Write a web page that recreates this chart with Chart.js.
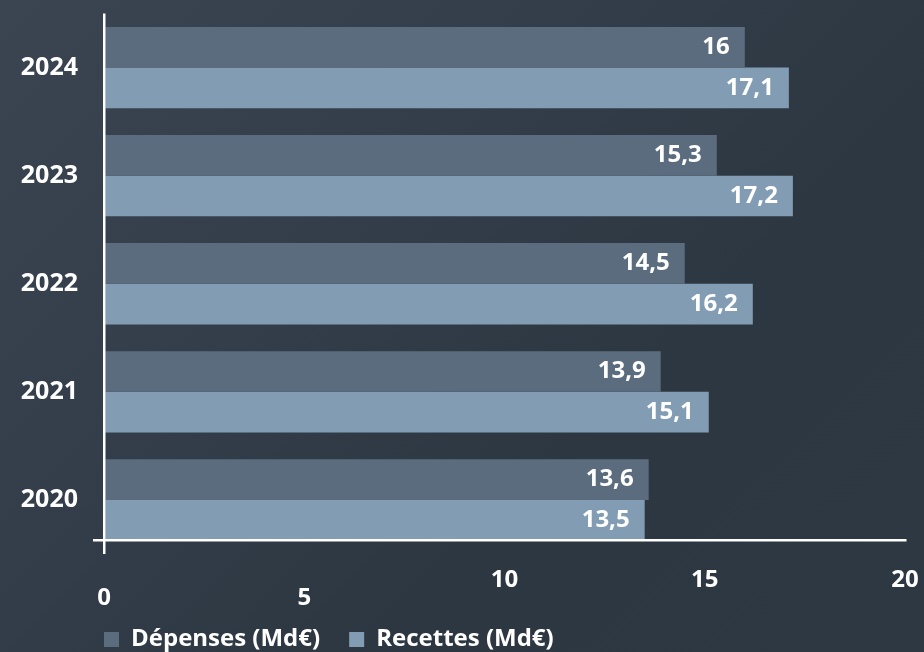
<!DOCTYPE html>
<html lang="fr">
<head>
<meta charset="utf-8">
<title>Dépenses et recettes</title>
<script src="https://cdn.jsdelivr.net/npm/chart.js@4.4.1/dist/chart.umd.min.js"></script>
<style>
  html, body { margin: 0; padding: 0; }
  body {
    width: 924px; height: 652px; overflow: hidden;
    background: linear-gradient(135deg, #3a4551 0%, #333e4a 35%, #2d3742 65%, #2e3843 100%);
  }
  #wrap { position: relative; width: 924px; height: 652px; }
</style>
</head>
<body>
<div id="wrap"><canvas id="budgetChart"></canvas></div>
<script>
var years = ['2024', '2023', '2022', '2021', '2020'];
var depenses = [16, 15.3, 14.5, 13.9, 13.6];
var recettes = [17.1, 17.2, 16.2, 15.1, 13.5];
var xTicks = [0, 5, 10, 15, 20];
var seriesNames = ['Dépenses (Md€)', 'Recettes (Md€)'];

var catPct = 0.752;
var family = '"Open Sans", "Noto Sans", sans-serif';
var font = { family: family, size: 24, weight: '700' };

// valeurs écrites au bout de chaque barre
var valueLabels = {
    id: 'valueLabels',
    afterLayout: function (chart) {
        // l'axe des années est étroit : on ne coupe pas ses libellés
        chart.scales.y.left = 0;
    },
    afterDatasetsDraw: function (chart) {
        var ctx = chart.ctx;
        ctx.save();
        ctx.font = '700 24px ' + family;
        ctx.fillStyle = '#ffffff';
        ctx.textAlign = 'right';
        ctx.textBaseline = 'middle';
        chart.data.datasets.forEach(function (ds, i) {
            chart.getDatasetMeta(i).data.forEach(function (bar, j) {
                ctx.fillText(String(ds.data[j]).replace('.', ','), bar.x - 15, bar.y);
            });
        });
        ctx.restore();
    }
};

Chart.defaults.color = '#ffffff';

var ctx = document.getElementById('budgetChart').getContext('2d');
new Chart(ctx, {
    type: 'bar',
    data: {
        labels: years,
        datasets: [
            { label: seriesNames[0], data: depenses, backgroundColor: '#5c6c7f', borderWidth: 0, barPercentage: 1, categoryPercentage: catPct },
            { label: seriesNames[1], data: recettes, backgroundColor: '#829db3', borderWidth: 0, barPercentage: 1, categoryPercentage: catPct }
        ]
    },
    options: {
        indexAxis: 'y',
        responsive: true,
        maintainAspectRatio: false,
        animation: false,
        layout: { padding: { left: 75, right: 19, top: 13.5, bottom: -9.5 } },
        scales: {
            x: {
                type: 'linear',
                min: -0.25,
                max: 20,
                position: { y: (years.length - 1) + catPct / 2 },
                afterBuildTicks: function (s) {
                    s.ticks = xTicks.map(function (v) { return { value: v }; });
                },
                afterFit: function (s) { s.paddingLeft = 0; s.paddingRight = 0; },
                grid: {
                    drawTicks: false,
                    z: 1,
                    lineWidth: 2.5,
                    color: function (c) { return c.tick && c.tick.value === 0 ? '#ffffff' : 'rgba(0,0,0,0)'; }
                },
                border: { display: true, color: '#ffffff', width: 2.5, z: 1 },
                ticks: {
                    color: '#ffffff',
                    font: { family: family, size: 24, weight: '700', lineHeight: 0.75 },
                    padding: 30.5,
                    maxRotation: 0,
                    autoSkip: false,
                    callback: function (v) { return v < 10 ? ['', String(v)] : String(v); }
                }
            },
            y: {
                position: 'left',
                afterFit: function (s) { s.width = 19; s.paddingTop = 0; s.paddingBottom = 0; },
                grid: { display: false, drawTicks: false },
                border: { display: false },
                ticks: { color: '#ffffff', font: { family: family, size: 25, weight: '700' }, padding: 16 }
            }
        },
        plugins: {
            legend: {
                position: 'bottom',
                align: 'start',
                title: { display: true, text: '', font: { size: 12, lineHeight: 1 }, padding: { top: 32.5, bottom: 0 } },
                labels: { color: '#ffffff', font: font, boxWidth: 15, boxHeight: 15, padding: 29 }
            },
            tooltip: { enabled: false }
        }
    },
    plugins: [valueLabels]
});
</script>
</body>
</html>
